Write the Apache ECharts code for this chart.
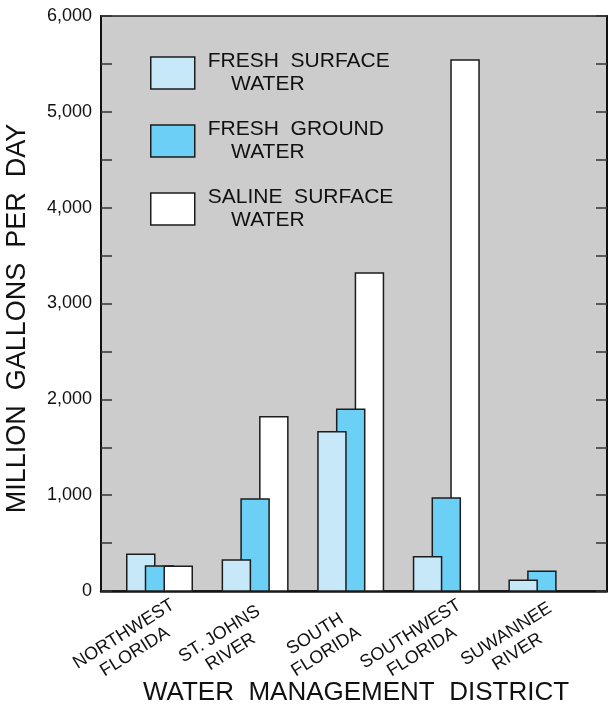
<!DOCTYPE html>
<html><head><meta charset="utf-8">
<script src="https://cdn.jsdelivr.net/npm/echarts@6/dist/echarts.min.js"></script>
<style>html,body{margin:0;padding:0;background:#fff}#c{width:608px;height:712px}</style>
</head><body><div id="c"></div>
<script>
// ---- data ----
const categories = ['NORTHWEST\nFLORIDA', 'ST. JOHNS\nRIVER', 'SOUTH\nFLORIDA', 'SOUTHWEST\nFLORIDA', 'SUWANNEE\nRIVER'];
const freshSurface = [383, 323, 1662, 358, 111];
const freshGround = [262, 960, 1896, 970, 205];
const salineSurface = [258, 1819, 3318, 5541, 0];
const seriesNames = ['FRESH SURFACE WATER', 'FRESH GROUND WATER', 'SALINE SURFACE WATER'];
const legendLabels = ['FRESH  SURFACE\n    WATER', 'FRESH  GROUND\n    WATER', 'SALINE  SURFACE\n    WATER'];
const yTickValues = [0, 1000, 2000, 3000, 4000, 5000, 6000];
const yTitle = 'MILLION  GALLONS  PER  DAY';
const xTitle = 'WATER  MANAGEMENT  DISTRICT';

// ---- style ----
const FONT = 'Liberation Sans, Arial, Helvetica, sans-serif';
const colors = ['#c6e8f8', '#6ccff6', '#ffffff'];
const stroke = '#1c1c1c';
const allSeries = [freshSurface, freshGround, salineSurface];

function makeRender(k) {
  return function (params, api) {
    const i = api.value(0), v = api.value(1);
    if (!(v > 0)) return null;
    const band = api.size([1, 0])[0];
    const w = band * 0.293, step = band * 0.196;
    const top = api.coord([i, v]), base = api.coord([i, 0]);
    const cx = top[0] + (k - 1) * step;
    const rank = allSeries.filter(a => a[i] > v).length;
    return {
      type: 'rect',
      shape: { x: cx - w / 2, y: top[1], width: w, height: base[1] - top[1] },
      z2: 10 + rank,
      style: { fill: colors[k], stroke: stroke, lineWidth: 1.5 }
    };
  };
}

const chart = echarts.init(document.getElementById('c'), null, { renderer: 'canvas' });
const fmt = v => String(v).replace(/\B(?=(\d{3})+(?!\d))/g, ',');

chart.setOption({
  animation: false,
  textStyle: { fontFamily: FONT },
  grid: [
    { left: 101, right: 1, top: 16, bottom: 121, containLabel: false, outerBoundsMode: 'none',
      show: true, backgroundColor: '#cccccc', borderColor: '#1a1a1a', borderWidth: 1.5 },
    { left: 111.7, right: 18.3, top: 16, bottom: 121, containLabel: false, outerBoundsMode: 'none' },
    { left: 81.7, right: 48.3, top: 16, bottom: 121, containLabel: false, outerBoundsMode: 'none' }
  ],
  xAxis: [
    { gridIndex: 0, type: 'value', min: 0, max: 1, axisLabel: { show: false }, axisTick: { show: false }, splitLine: { show: false },
      axisLine: { lineStyle: { color: '#111', width: 2.5 } },
      name: xTitle, nameLocation: 'middle', nameGap: 89,
      nameTextStyle: { fontSize: 26, color: '#111', fontFamily: FONT, padding: [0, 0, 0, 4] } },
    { gridIndex: 1, type: 'category', data: categories, show: false },
    { gridIndex: 2, type: 'category', data: categories, axisLine: { show: false }, axisTick: { show: false },
      axisLabel: { interval: 0, rotate: 32, align: 'center', verticalAlign: 'middle', margin: 52,
        fontSize: 18, lineHeight: 21, color: '#111', fontFamily: FONT } }
  ],
  yAxis: [
    { gridIndex: 0, type: 'value', min: 0, max: 6000, interval: 500, position: 'left',
      axisLine: { show: true, lineStyle: { color: '#111', width: 2 } },
      axisTick: { show: true, inside: true, length: 11, lineStyle: { color: '#333', width: 1.5 } },
      splitLine: { show: false },
      axisLabel: { margin: 9, fontSize: 18, color: '#111', fontFamily: FONT,
        formatter: v => (yTickValues.indexOf(v) >= 0 ? fmt(v) : '') },
      name: yTitle, nameLocation: 'middle', nameGap: 70,
      nameTextStyle: { fontSize: 27, color: '#111', fontFamily: FONT, padding: [0, 30, 0, 0] } },
    { gridIndex: 0, type: 'value', min: 0, max: 6000, interval: 500, position: 'right',
      axisLine: { show: true, lineStyle: { color: '#111', width: 2 } },
      axisTick: { show: true, inside: true, length: 11, lineStyle: { color: '#333', width: 1.5 } },
      splitLine: { show: false }, axisLabel: { show: false } },
    { gridIndex: 1, type: 'value', min: 0, max: 6000, show: false },
    { gridIndex: 2, type: 'value', min: 0, max: 6000, show: false }
  ],
  legend: {
    orient: 'vertical', left: 150, top: 50, padding: 0,
    itemWidth: 44, itemHeight: 32, itemGap: 22, icon: 'rect',
    itemStyle: { borderColor: stroke, borderWidth: 1.5 },
    textStyle: { fontSize: 21, lineHeight: 23, color: '#111', fontFamily: FONT, padding: [0, 0, 0, 8] },
    formatter: name => legendLabels[seriesNames.indexOf(name)],
    data: seriesNames
  },
  series: allSeries.map((arr, k) => ({
    name: seriesNames[k],
    type: 'custom',
    xAxisIndex: 1, yAxisIndex: 2,
    itemStyle: { color: colors[k], borderColor: stroke, borderWidth: 1.5 },
    renderItem: makeRender(k),
    data: arr.map((v, i) => [i, v])
  }))
});
</script>
</body></html>
